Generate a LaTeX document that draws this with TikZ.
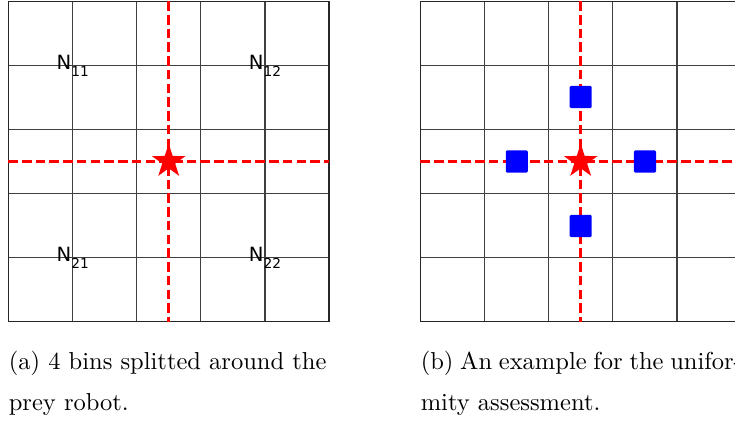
\documentclass[tikz,border=0pt]{standalone}
\usepackage{fontspec}
\newfontfamily\etichetta{DejaVu Sans}
\usetikzlibrary{shapes.geometric}

\newcommand{\binN}[1]{{\etichetta\fontsize{8pt}{9pt}\selectfont
  N\raisebox{-3pt}{\fontsize{5.6pt}{6pt}\selectfont #1}}}

\begin{document}
\begin{tikzpicture}[
    x=0.408pt, y=-0.408pt,
    font=\fontsize{10pt}{12pt}\selectfont,
    griglia/.style={line width=0.5pt,draw=black!75},
    bordo/.style={line width=0.5pt,draw=black!85},
    taglio/.style={line width=1pt,draw=red,dash pattern=on 3.9pt off 1.7pt},
    preda/.style={star,star points=5,star point ratio=2.618,fill=red,
                  inner sep=0pt,minimum size=14.5pt},
    robot/.style={rectangle,fill=blue,rounded corners=0.5pt,
                  inner sep=0pt,minimum size=9pt},
    bin/.style={inner sep=0pt},
    riga/.style={anchor=base west,inner sep=0pt}]

  \useasboundingbox (0,0) rectangle (735,422);
  \clip (0,0) rectangle (735,422);

  % griglie 5x5
  \foreach \ox in {8.3,420.3} {
    \foreach \i in {1,...,4} {
      \draw[griglia] (\ox+\i*64.15,1.3) -- (\ox+\i*64.15,321.7);
      \draw[griglia] (\ox,1.3+\i*64.08) -- (\ox+320.75,1.3+\i*64.08);
    }
    \draw[bordo] (\ox,1.3) rectangle (\ox+320.75,321.7);
  }

  % (a) quattro bin attorno alla preda
  \coordinate (aN) at (168.7,1.3);
  \coordinate (aS) at (168.7,321.7);
  \coordinate (aO) at (8.3,161.5);
  \coordinate (aE) at (329.05,161.5);
  \draw[taglio] (aN) -- (aS);
  \draw[taglio] (aO) -- (aE);
  \node[preda] (predaA) at (168.7,161.5) {};

  \node[bin] (n11) at (72.8,65.6)  {\binN{11}};
  \node[bin] (n12) at (265.0,65.6) {\binN{12}};
  \node[bin] (n21) at (72.8,257.6) {\binN{21}};
  \node[bin] (n22) at (265.0,257.6) {\binN{22}};

  % (b) esempio di uniformita
  \coordinate (bN) at (580.7,1.3);
  \coordinate (bS) at (580.7,321.7);
  \coordinate (bO) at (420.3,161.5);
  \coordinate (bE) at (741.0,161.5);
  \draw[taglio] (bN) -- (bS);
  \draw[taglio] (bO) -- (bE);
  \node[preda] (predaB) at (580.7,161.5) {};

  \node[robot] (rN) at (580.7,97.0)  {};
  \node[robot] (rO) at (516.8,161.5) {};
  \node[robot] (rE) at (645.0,161.5) {};
  \node[robot] (rS) at (580.7,226.0) {};

  % didascalie
  \node[riga] (capA1) at (8.3,369.4) {(a) 4 bins splitted around the};
  \node[riga] (capA2) at (8.3,411.0) {prey robot.};
  \node[riga] (capB1) at (420.3,369.4)
    {\makebox[131pt][s]{(b) An example for the unifor-}};
  \node[riga] (capB2) at (420.3,411.0) {mity assessment.};

\end{tikzpicture}
\end{document}
